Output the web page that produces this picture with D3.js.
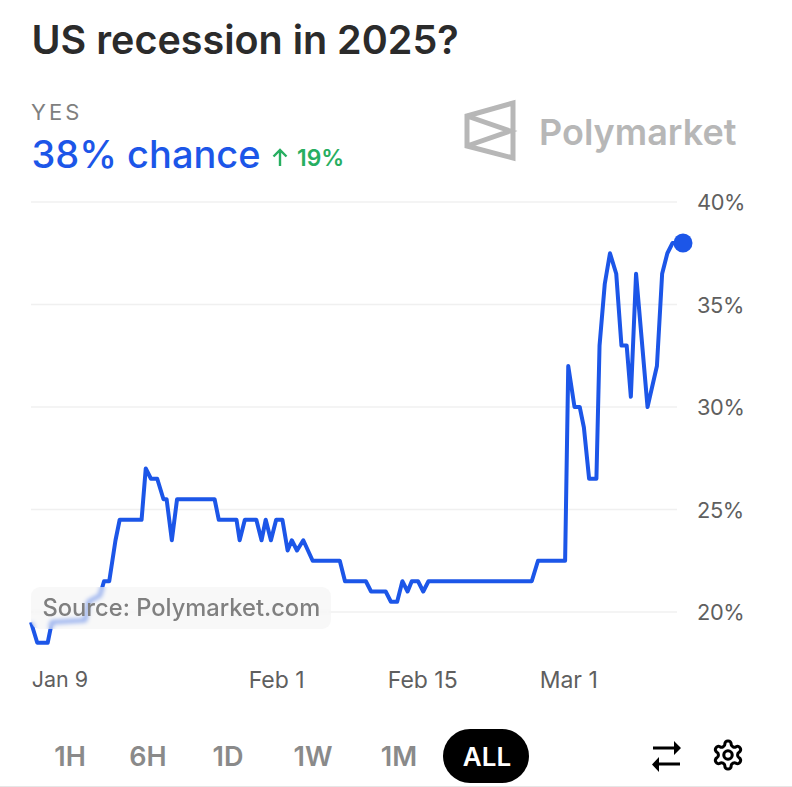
<!DOCTYPE html>
<html>
<head>
<meta charset="utf-8">
<script src="https://cdn.jsdelivr.net/npm/d3@7"></script>
<style>
  html, body { margin: 0; padding: 0; background: #fff; }
  #wrap { position: relative; width: 792px; height: 787px; overflow: hidden; font-family: Inter, sans-serif; }
  svg { position: absolute; left: 0; top: 0; }
  #source {
    position: absolute; left: 31px; top: 587px; width: 300px; height: 42px;
    border-radius: 9px; background: rgba(243,243,243,0.55);
    -webkit-backdrop-filter: blur(2px); backdrop-filter: blur(2px);
    color: #808080; font-size: 23.7px; font-weight: 500; line-height: 42px; text-indent: 11.5px; white-space: nowrap;
  }
</style>
</head>
<body>
<div id="wrap"><div id="source">Source: Polymarket.com</div></div>
<script>
// day of 2025 (Jan 1 = 1, Feb 1 = 32, Mar 1 = 60)
const days = [8.5,9.1,10.1,10.5,13.7,14.0,15.1,15.5,16.0,16.6,17.0,19.1,19.5,20.0,20.6,21.2,21.5,22.0,22.5,26.1,
  26.5,28.2,28.5,29.0,30.1,30.6,31.0,31.5,32.0,32.6,33.1,33.5,34.0,34.6,35.5,38.1,38.6,40.6,41.1,42.5,
  43.0,43.6,44.1,44.6,45.0,45.6,46.1,46.6,56.5,57.1,59.7,60.0,60.6,61.1,61.5,62.0,62.7,63.0,63.5,64.0,
  64.6,65.1,65.6,66.0,66.5,67.6,68.5,69.0,69.5,70.0,71.0];
const yes = [19.5,18.5,18.5,19.5,19.6,20.5,20.8,21.5,21.5,23.5,24.5,24.5,27,26.5,26.5,25.5,25.5,23.5,25.5,25.5,
  24.5,24.5,23.5,24.5,24.5,23.5,24.5,23.5,24.5,24.5,23,23.5,23,23.5,22.5,22.5,21.5,21.5,21,21,
  20.5,20.5,21.5,21,21.5,21.5,21,21.5,21.5,22.5,22.5,32,30,30,29,26.5,26.5,33,36,37.5,
  36.5,33,33,30.5,36.5,30,32,36.5,37.5,38,38];

const yTicks = [20,25,30,35,40];
const xTicks = [9,32,46,60];
const xLabels = ['Jan 9','Feb 1','Feb 15','Mar 1'];
const ranges = ['1H','6H','1D','1W','1M','ALL'];
const rangeX = [70,148,228,313,399,487];

const width = 792;
const height = 787;
const blue = '#1c56e8';

const svg = d3.select('#wrap').insert('svg','#source')
  .attr('width', width)
  .attr('height', height)
  .attr('viewBox', [0, 0, width, height]);

const x = d3.scaleLinear().domain([8.5, 71]).range([31, 683]);
const y = d3.scaleLinear().domain([20, 40]).range([612, 202]);

//title and header
const addText = (t, tx, ty, size, weight, color, extra) => svg.append('text')
  .attr('x', tx).attr('y', ty)
  .attr('font-size', size).attr('font-weight', weight).attr('fill', color)
  .attr('letter-spacing', extra || 0)
  .text(t);

addText('US recession in 2025?', 31.5, 54, 39.5, 600, '#2b2b2b');
addText('YES', 31, 120, 22, 400, '#7f7f7f', 3);
addText('38% chance', 31.5, 168, 38, 500, blue);
addText('19%', 297, 166, 22.8, 600, '#27ae60');

//green arrow
svg.append('path')
  .attr('d', 'M280 166V150M273.5 156.5L280 150L286.5 156.5')
  .attr('fill', 'none').attr('stroke', '#27ae60').attr('stroke-width', 2.4);

//logo
svg.append('path')
  .attr('d', 'M467 116L513 103V158L467 146ZM467 116L510 131L467 146')
  .attr('fill', 'none').attr('stroke', '#b7b7b7').attr('stroke-width', 5);
addText('Polymarket', 539, 145, 36, 600, '#b7b7b7');

//grid
svg.append('g')
  .selectAll('line')
  .data(yTicks)
  .join('line')
    .attr('x1', 31).attr('x2', 677)
    .attr('y1', d => y(d)).attr('y2', d => y(d))
    .attr('stroke', '#f0f0f0').attr('stroke-width', 1.5);

//y axis
const yAxis = g => {
  g.attr('transform', 'translate(697,1)')
    .call(d3.axisRight(y).tickValues(yTicks).tickSize(0).tickPadding(0).tickFormat(d => d + '%'))
    .call(g => g.select('.domain').remove());
  g.selectAll('text').attr('font-size', 21.8).attr('letter-spacing', -0.4).attr('font-family', 'Inter, sans-serif').attr('fill', '#5f5f5f');
};
svg.append('g').call(yAxis);

//x axis
const xAxis = g => {
  g.attr('transform', 'translate(0,672)')
    .call(d3.axisBottom(x).tickValues(xTicks).tickSize(0).tickPadding(0).tickFormat((d, i) => xLabels[i]))
    .call(g => g.select('.domain').remove());
  g.selectAll('text').attr('font-size', 23).attr('font-family', 'Inter, sans-serif').attr('fill', '#5f5f5f');
  g.select('.tick text').attr('text-anchor', 'start').attr('dx', -5).attr('font-size', 21.5);
};
svg.append('g').call(xAxis);

//line
const line = d3.line().x((d, i) => x(days[i])).y(d => y(d));
svg.append('path')
  .datum(yes)
  .attr('fill', 'none')
  .attr('stroke', blue)
  .attr('stroke-width', 4)
  .attr('stroke-linejoin', 'round')
  .attr('d', line);

svg.append('circle')
  .attr('cx', x(days[days.length - 1]))
  .attr('cy', y(yes[yes.length - 1]))
  .attr('r', 9.5)
  .attr('fill', blue);

//range buttons
svg.append('rect')
  .attr('x', 443).attr('y', 729).attr('width', 86).attr('height', 54).attr('rx', 27)
  .attr('fill', '#000');
svg.append('g')
  .selectAll('text')
  .data(ranges)
  .join('text')
    .attr('x', (d, i) => rangeX[i])
    .attr('y', 766)
    .attr('text-anchor', 'middle')
    .attr('font-size', d => d === 'ALL' ? 26 : 27)
    .attr('font-weight', 600)
    .attr('fill', d => d === 'ALL' ? '#fff' : '#8a8a8a')
    .text(d => d);

//swap icon
svg.append('path')
  .attr('d', 'M653 746.5H674V741L681 748L674 755V749.5H653ZM680 762.5H659V757L652 764.5L659 772V765.5H680Z')
  .attr('fill', '#000');

//gear icon
svg.append('g')
  .attr('transform', 'translate(711.2,738.2) scale(1.4)')
  .attr('fill', 'none').attr('stroke', '#000').attr('stroke-width', 2.2)
  .call(g => g.append('path').attr('d', 'M12.22 2h-.44a2 2 0 0 0-2 2v.18a2 2 0 0 1-1 1.73l-.43.25a2 2 0 0 1-2 0l-.15-.08a2 2 0 0 0-2.73.73l-.22.38a2 2 0 0 0 .73 2.73l.15.1a2 2 0 0 1 1 1.72v.51a2 2 0 0 1-1 1.74l-.15.09a2 2 0 0 0-.73 2.73l.22.38a2 2 0 0 0 2.73.73l.15-.08a2 2 0 0 1 2 0l.43.25a2 2 0 0 1 1 1.73V20a2 2 0 0 0 2 2h.44a2 2 0 0 0 2-2v-.18a2 2 0 0 1 1-1.73l.43-.25a2 2 0 0 1 2 0l.15.08a2 2 0 0 0 2.73-.73l.22-.39a2 2 0 0 0-.73-2.73l-.15-.08a2 2 0 0 1-1-1.74v-.5a2 2 0 0 1 1-1.74l.15-.09a2 2 0 0 0 .73-2.73l-.22-.38a2 2 0 0 0-2.73-.73l-.15.08a2 2 0 0 1-2 0l-.43-.25a2 2 0 0 1-1-1.73V4a2 2 0 0 0-2-2z'))
  .call(g => g.append('circle').attr('cx', 12).attr('cy', 12).attr('r', 3));

//bottom rule
svg.append('line')
  .attr('x1', 0).attr('x2', width).attr('y1', 786.5).attr('y2', 786.5)
  .attr('stroke', '#e6e6e6');
</script>
</body>
</html>
